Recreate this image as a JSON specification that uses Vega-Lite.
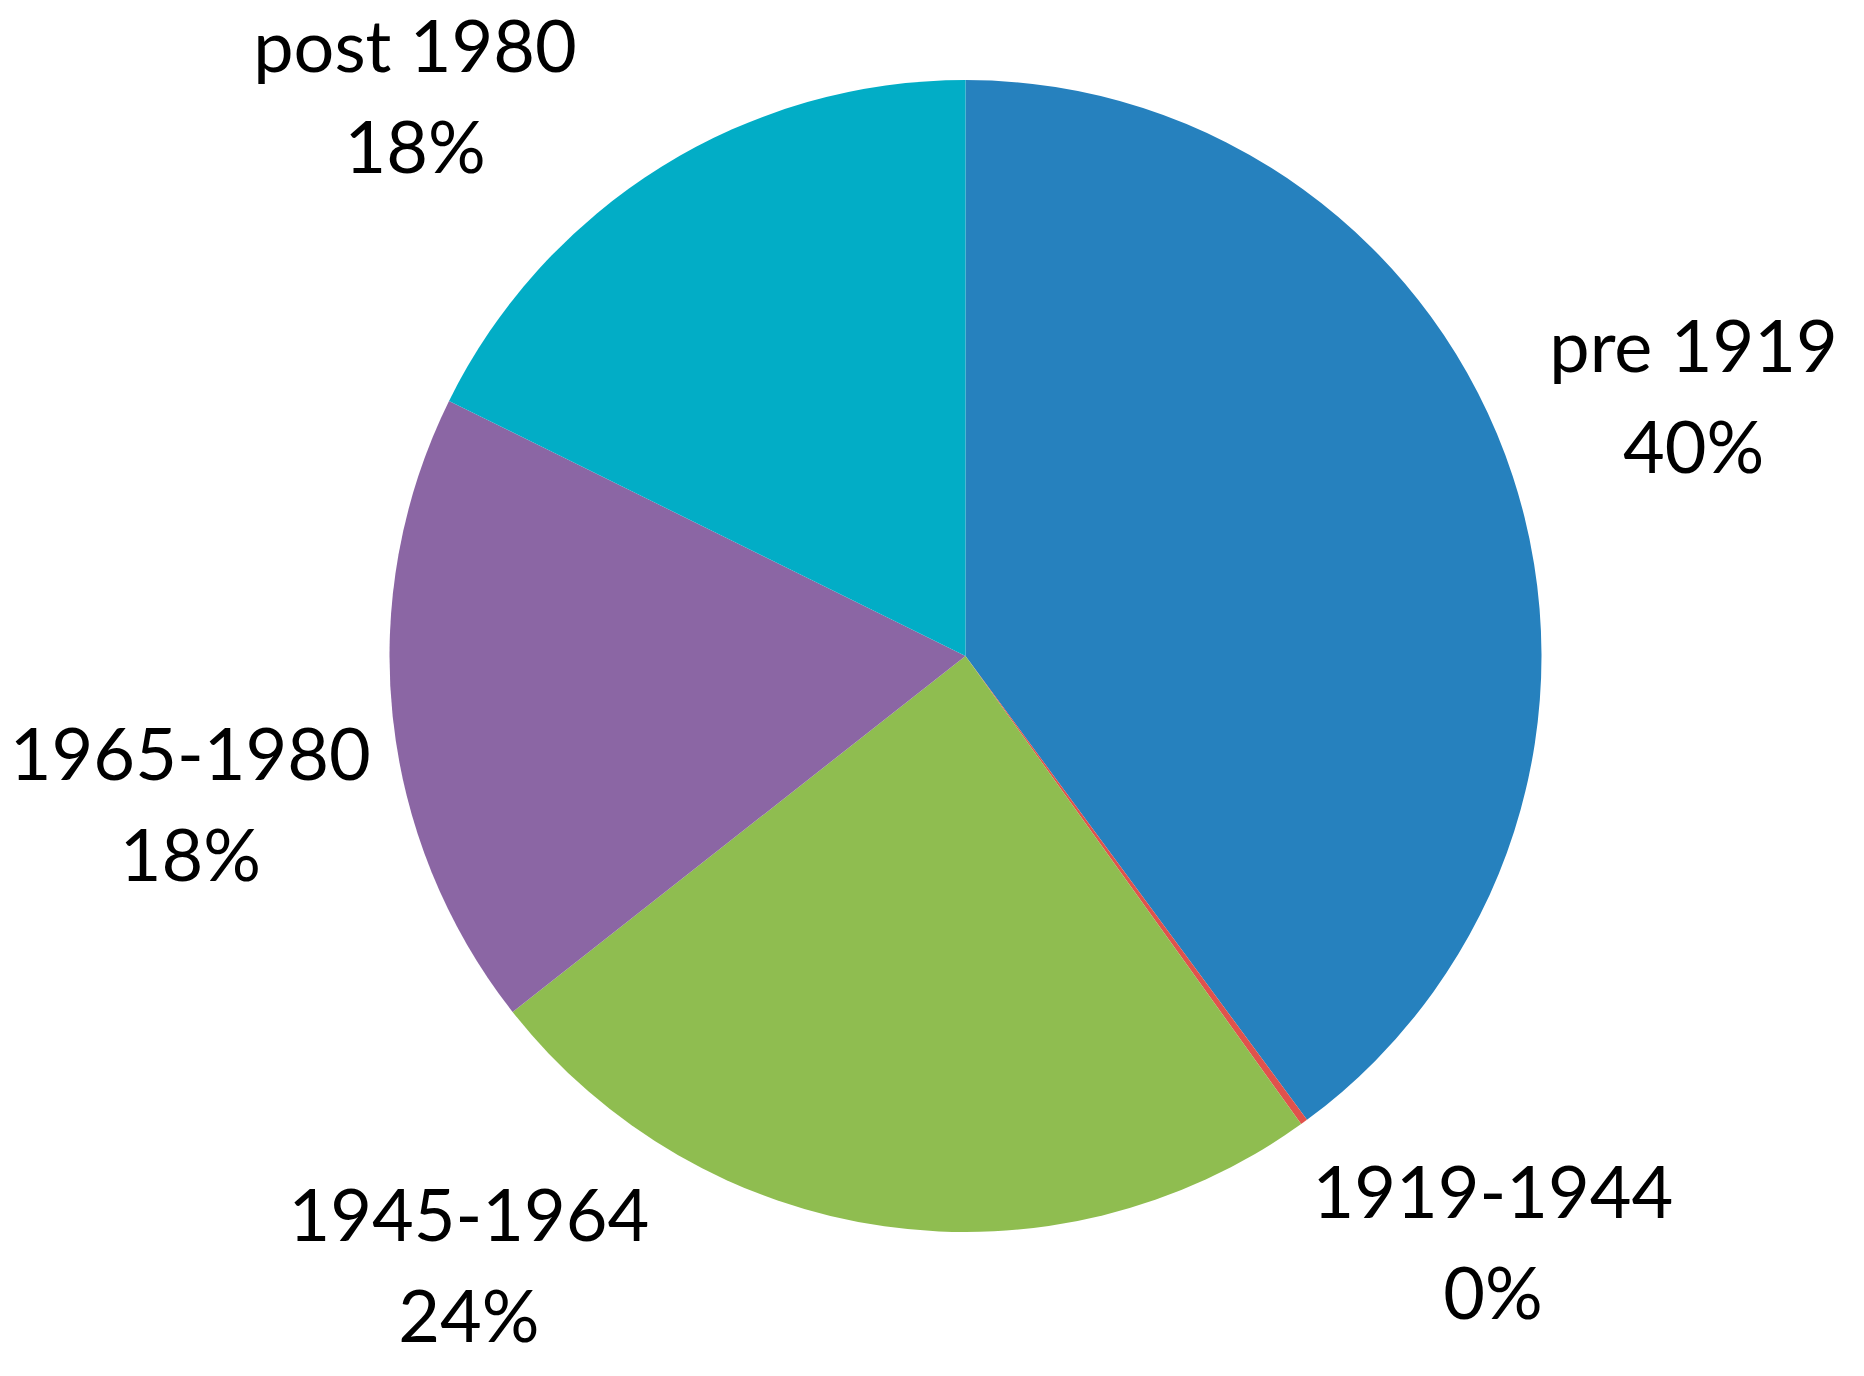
{
  "$schema": "https://vega.github.io/schema/vega-lite/v6.json",
  "autosize": {"type": "none"},
  "width": 1797,
  "height": 1312,
  "padding": {"left": 67, "top": 0, "right": 0, "bottom": 64},
  "background": "white",
  "config": {"view": {"stroke": null}},
  "data": {
    "values": [
      {"n": 1, "period": "pre 1919", "value": 39.9},
      {"n": 2, "period": "1919-1944", "value": 0.2},
      {"n": 3, "period": "1945-1964", "value": 24.3},
      {"n": 4, "period": "1965-1980", "value": 17.9},
      {"n": 5, "period": "post 1980", "value": 17.7}
    ]
  },
  "transform": [
    {"stack": "value", "groupby": [], "as": ["v0", "v1"], "sort": [{"field": "n", "order": "ascending"}]},
    {"calculate": "(datum.v0 + datum.v1) / 2", "as": "mid"},
    {"calculate": "datum.period + '\\n' + format(datum.value / 100, '.0%')", "as": "label"}
  ],
  "layer": [
    {
      "mark": {"type": "arc", "outerRadius": 576, "stroke": null},
      "encoding": {
        "theta": {"field": "v0", "type": "quantitative", "scale": {"domain": [0, 100]}},
        "theta2": {"field": "v1"},
        "color": {
          "field": "period",
          "type": "nominal",
          "scale": {
            "domain": ["pre 1919", "1919-1944", "1945-1964", "1965-1980", "post 1980"],
            "range": ["#2681BE", "#E0524C", "#8FBD50", "#8B66A4", "#02ADC6"]
          },
          "legend": null
        }
      }
    },
    {
      "transform": [{"filter": "datum.period == 'pre 1919'"}],
      "mark": {"type": "text", "font": "Lato", "fontSize": 72, "lineHeight": 101, "lineBreak": "\n", "align": "center", "baseline": "middle", "color": "black", "dx": 63, "dy": -88},
      "encoding": {
        "theta": {"field": "mid", "type": "quantitative", "scale": {"domain": [0, 100]}},
        "radius": {"value": 700},
        "text": {"field": "label"}
      }
    },
    {
      "transform": [{"filter": "datum.period == '1919-1944'"}],
      "mark": {"type": "text", "font": "Lato", "fontSize": 72, "lineHeight": 101, "lineBreak": "\n", "align": "center", "baseline": "middle", "color": "black", "dx": 116, "dy": -26},
      "encoding": {
        "theta": {"field": "mid", "type": "quantitative", "scale": {"domain": [0, 100]}},
        "radius": {"value": 700},
        "text": {"field": "label"}
      }
    },
    {
      "transform": [{"filter": "datum.period == '1945-1964'"}],
      "mark": {"type": "text", "font": "Lato", "fontSize": 72, "lineHeight": 101, "lineBreak": "\n", "align": "center", "baseline": "middle", "color": "black", "dx": -398, "dy": -130},
      "encoding": {
        "theta": {"field": "mid", "type": "quantitative", "scale": {"domain": [0, 100]}},
        "radius": {"value": 700},
        "text": {"field": "label"}
      }
    },
    {
      "transform": [{"filter": "datum.period == '1965-1980'"}],
      "mark": {"type": "text", "font": "Lato", "fontSize": 72, "lineHeight": 101, "lineBreak": "\n", "align": "center", "baseline": "middle", "color": "black", "dx": -79, "dy": 30},
      "encoding": {
        "theta": {"field": "mid", "type": "quantitative", "scale": {"domain": [0, 100]}},
        "radius": {"value": 700},
        "text": {"field": "label"}
      }
    },
    {
      "transform": [{"filter": "datum.period == 'post 1980'"}],
      "mark": {"type": "text", "font": "Lato", "fontSize": 72, "lineHeight": 101, "lineBreak": "\n", "align": "center", "baseline": "middle", "color": "black", "dx": -181, "dy": -11},
      "encoding": {
        "theta": {"field": "mid", "type": "quantitative", "scale": {"domain": [0, 100]}},
        "radius": {"value": 700},
        "text": {"field": "label"}
      }
    }
  ]
}
